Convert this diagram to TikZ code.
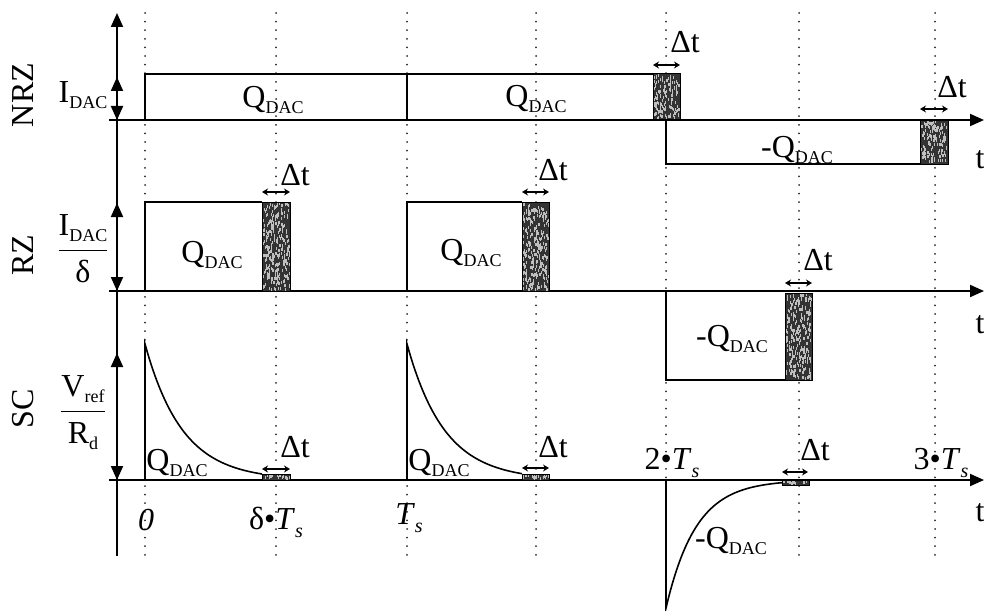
\documentclass[tikz,border=0pt]{standalone}
\usepackage{fontspec}
\setmainfont{Liberation Serif}
\usetikzlibrary{arrows.meta}
\newcommand{\lblfont}{\fontsize{16}{19}\selectfont}
\newcommand{\dsub}[1]{\raisebox{-3pt}{\fontsize{9}{9}\selectfont #1}}
\newcommand{\qdac}{Q\dsub{DAC}}
\newcommand{\tsub}{\textit{T}\raisebox{-4pt}{\fontsize{10}{10}\selectfont\textit{s}}}
% noisy block: x1, y1, x2, y2
\newcommand{\noiseblk}[4]{%
  \fill[black!80] (#1,#2) rectangle (#3,#4);
  \pgfmathtruncatemacro\nspk{(#3-#1)*(#4-#2)/9}
  \foreach \k in {1,...,\nspk}{%
    \pgfmathsetmacro\spx{#1+rnd*(#3-#1-1.2)}%
    \pgfmathsetmacro\spy{#2+rnd*(#4-#2-3)}%
    \fill[black!25] (\spx,\spy) rectangle ++(1.2,3);
  }
  \draw[line width=0.5pt] (#1,#2) rectangle (#3,#4);
}

\begin{document}
\begin{tikzpicture}[x=0.5pt, y=-0.5pt,
  lbl/.style={inner sep=0pt, font=\lblfont},
  axis/.style={line width=1pt, -{Triangle[length=7pt, width=6pt]}},
  level/.style={line width=1pt, {Triangle[length=7pt, width=6pt]}-{Triangle[length=7pt, width=6pt]}},
  pulse/.style={line width=0.8pt},
  guide/.style={line width=1pt, line cap=round, dash pattern=on 0pt off 4.3pt, black!85},
  dt/.style={line width=0.6pt, {Stealth[length=3pt, width=3.5pt]}-{Stealth[length=3pt, width=3.5pt]}}
]
\useasboundingbox (0,0) rectangle (984,610);
\pgfmathsetseed{7}

% time guides
\foreach \gx in {145,276,407,536,666,799,935}
  \draw[guide] (\gx,13) -- (\gx,556);

% axes
\coordinate (vbot) at (117,556);
\coordinate (vtop) at (117,13);
\draw[axis] (vbot) -- (vtop);
\foreach \ay/\nm in {120/nrz,291/rz,480/sc}{
  \coordinate (\nm0) at (109,\ay);
  \coordinate (\nm1) at (984,\ay);
  \draw[axis] (\nm0) -- (\nm1);
}
\draw[level] (117,77) -- (117,120);
\draw[level] (117,203) -- (117,291);
\draw[level] (117,353) -- (117,480);

% NRZ
\draw[pulse] (145,120) -- (145,74) -- (653,74);
\draw[pulse] (407,74) -- (407,120);
\draw[pulse] (666,120) -- (666,164) -- (920,164);
\noiseblk{653}{74}{680}{120}
\noiseblk{920}{120}{948}{164}

% RZ
\draw[pulse] (145,291) -- (145,202) -- (262,202);
\draw[pulse] (407,291) -- (407,202) -- (522,202);
\draw[pulse] (666,291) -- (666,380) -- (785,380);
\noiseblk{262}{202}{290}{291}
\noiseblk{522}{202}{549}{291}
\noiseblk{785}{293}{812}{380}

% SC
\draw[pulse] (145,480) -- plot[domain=0:117, samples=60] ({145+\x},{480-136*exp(-\x/37.5)});
\draw[pulse] (407,480) -- plot[domain=0:115, samples=60] ({407+\x},{480-136*exp(-\x/37.5)});
\draw[pulse] (666,480) -- plot[domain=0:116, samples=60] ({666+\x},{480+128*exp(-\x/30)});
\noiseblk{262}{474}{290}{480}
\noiseblk{522}{474}{549}{480}
\noiseblk{782}{480}{809}{485}

% delta t
\foreach \xa/\xb/\ya in {653/680/65, 920/948/109, 262/290/192, 522/549/192, 785/812/283, 262/290/469, 522/549/468, 782/808/472}
  \draw[dt] (\xa,\ya) -- (\xb,\ya);
\foreach \p [count=\i] in {{685,42}, {952,87}, {295,175}, {553,170}, {818,260}, {295,447}, {553,447}, {815,450}}
  \node[lbl] (dt\i) at (\p) {Δt};

% charges
\node[lbl] (q1) at (273,100) {\qdac};
\node[lbl] (q2) at (536,99) {\qdac};
\node[lbl] (q3) at (797,150) {-\qdac};
\node[lbl] (q4) at (212,255) {\qdac};
\node[lbl] (q5) at (471,253) {\qdac};
\node[lbl] (q6) at (732,339) {-\qdac};
\node[lbl] (q7) at (177,463) {\qdac};
\node[lbl] (q8) at (439,463) {\qdac};
\node[lbl] (q9) at (731,541) {-\qdac};

% time marks
\node[lbl] (t0) at (146,520) {\textit{0}};
\node[lbl] (tdel) at (276,522) {δ\textbullet\tsub};
\node[lbl] (ts1) at (409,518) {\tsub};
\node[lbl] (ts2) at (672,463) {2\textbullet\tsub};
\node[lbl] (ts3) at (941,463) {3\textbullet\tsub};
\foreach \ty [count=\i] in {160,325,513}
  \node[lbl] (tt\i) at (980,\ty) {t};

% left labels
\node[lbl, rotate=90] (nrz) at (23,95) {NRZ};
\node[lbl, rotate=90] (rz) at (23,255) {RZ};
\node[lbl, rotate=90] (sc) at (23,409) {SC};
\node[lbl] (idac) at (83,95) {I\dsub{DAC}};
\node[lbl] (idacd) at (83,249) {$\displaystyle\frac{\hbox{I\dsub{DAC}}}{\hbox{δ}}$};
\node[lbl] (vref) at (83,413) {$\displaystyle\frac{\hbox{V\dsub{ref}}}{\hbox{R\dsub{d}}}$};
\end{tikzpicture}
\end{document}
